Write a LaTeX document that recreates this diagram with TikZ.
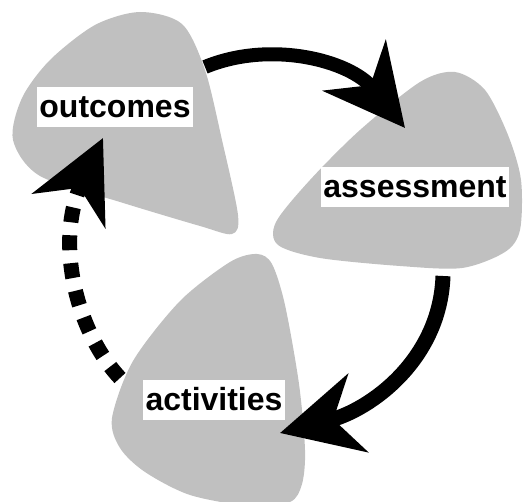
\documentclass[tikz,border=0pt]{standalone}
\usepackage{fontspec}
\setmainfont{Liberation Sans}
\usepackage{tikz}
\usetikzlibrary{arrows.meta,positioning}
\definecolor{blobgray}{HTML}{C0C0C0}

\begin{document}
\begin{tikzpicture}[
  x=1pt,
  y=-1pt,
  blob/.style={fill=blobgray, draw=none},
  lab/.style={fill=white, font=\bfseries\fontsize{32}{36}\selectfont, inner xsep=2.5pt, inner ysep=4.5pt, text height=26pt, text depth=5pt},
  flow/.style={-{Stealth[length=80pt, width=80pt, inset=25pt]}, line width=14pt},
  back/.style={flow, line width=15pt, dash pattern=on 15pt off 13pt}
]
  \useasboundingbox (0,0) rectangle (524,502);
  % the three blobs
  \fill[blob] plot[smooth cycle] coordinates {(140,12) (182,24) (205,70) (222,140) (238,215) (232,234) (200,226) (120,202) (40,176) (13,140) (22,98) (50,60) (95,25)};
  \fill[blob] plot[smooth cycle] coordinates {(455,72) (485,90) (508,135) (521,180) (520,230) (505,252) (462,268) (400,266) (320,258) (278,245) (276,222) (310,180) (360,130) (420,82)};
  \fill[blob] plot[smooth cycle] coordinates {(257,254) (272,264) (285,305) (299,384) (305,450) (302,484) (290,502) (250,506) (190,495) (145,472) (120,448) (112,418) (133,361) (180,301) (230,262)};

  \node[lab] (outcomes) at (115,107) {outcomes};
  \node[lab] (assessment) at (415,187.5) {assessment};
  \node[lab] (activities) at (214,399.5) {activities};

  \coordinate (outcomes-out) at (205,67);
  \coordinate (assessment-in) at (405,128);
  \coordinate (assessment-out) at (443,276);
  \coordinate (activities-in) at (280,433);
  \coordinate (activities-out) at (120,378);
  \coordinate (outcomes-in) at (103,138);

  \draw[flow] (outcomes-out) .. controls (270,40) and (350,60) .. (assessment-in);
  \draw[flow, line width=15pt] (assessment-out) .. controls (440,360) and (370,410) .. (activities-in);
  \draw[back] (activities-out) .. controls (75,330) and (55,240) .. (outcomes-in);
\end{tikzpicture}
\end{document}
